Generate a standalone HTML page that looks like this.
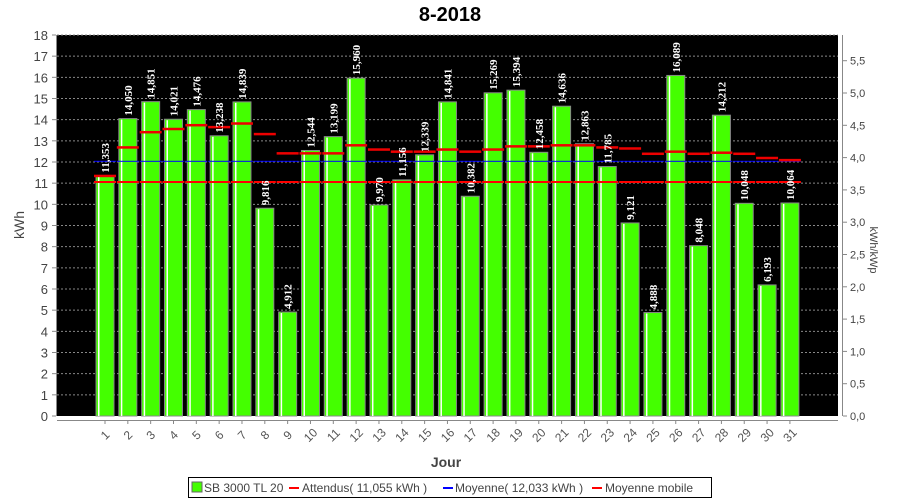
<!DOCTYPE html>
<html><head><meta charset="utf-8"><style>
html,body{margin:0;padding:0;background:#fff;}
svg{display:block;font-family:"Liberation Sans",sans-serif;}
</style></head><body>
<svg id="s" width="900" height="500" xmlns="http://www.w3.org/2000/svg">
<text x="450" y="21" text-anchor="middle" font-size="20" font-weight="bold" fill="#000">8-2018</text>
<rect x="57" y="35" width="781" height="381" fill="#000"/>
<g id="g"></g>
<text transform="translate(24,225) rotate(-90)" text-anchor="middle" font-size="14" fill="#444">kWh</text>
<text transform="translate(870,250) rotate(90)" text-anchor="middle" font-size="11" fill="#444">kWh/kWp</text>
<text x="446" y="467" text-anchor="middle" font-size="14" font-weight="bold" fill="#444">Jour</text>
<rect x="188.5" y="477.5" width="523" height="20" fill="#fff" stroke="#000"/>
<rect x="192" y="482" width="10" height="10" fill="#44ff00" stroke="#666"/>
<text x="204" y="492" font-size="12" fill="#444">SB 3000 TL 20</text>
<rect x="289" y="487" width="10" height="2" fill="#f00"/>
<text x="302" y="492" font-size="12" fill="#444">Attendus( 11,055 kWh )</text>
<rect x="443" y="487" width="10" height="2" fill="#00f"/>
<text x="455" y="492" font-size="12" fill="#444">Moyenne( 12,033 kWh )</text>
<rect x="592" y="487" width="10" height="2" fill="#f00"/>
<text x="605" y="492" font-size="12" fill="#444">Moyenne mobile</text>
</svg>
<script>
var g=document.getElementById('g'),h='';
var Y=function(v){return 416-v*21.167;};
for(var i=0;i<=18;i++){var y=Y(i);
 if(i>0)h+='<line x1="57" x2="838" y1="'+y+'" y2="'+y+'" stroke="#888" stroke-dasharray="2,2"/>';
 h+='<line x1="52" x2="56" y1="'+y+'" y2="'+y+'" stroke="#888"/>';
 h+='<text x="48" y="'+(y+5)+'" text-anchor="end" font-size="13" fill="#444">'+i+'</text>';}
h+='<line x1="56.5" x2="56.5" y1="35" y2="416" stroke="#888"/>';
h+='<line x1="842.5" x2="842.5" y1="35" y2="416" stroke="#888"/>';
for(var k=0;k<=11;k++){var v=k*0.5,y=416-v*64.6;
 h+='<line x1="843" x2="847" y1="'+y+'" y2="'+y+'" stroke="#888"/>';
 h+='<text x="850" y="'+(y+4)+'" font-size="11" fill="#444">'+v.toFixed(1).replace('.',',')+'</text>';}
h+='<line x1="57" x2="838" y1="420.5" y2="420.5" stroke="#888"/>';
var d=[11.353,14.050,14.851,14.021,14.476,13.238,14.839,9.816,4.912,12.544,13.199,15.960,9.970,11.156,12.339,14.841,10.382,15.269,15.394,12.458,14.636,12.863,11.785,9.121,4.888,16.089,8.048,14.212,10.048,6.193,10.064];
var m=[11.353,12.70,13.42,13.57,13.75,13.66,13.83,13.33,12.42,12.42,12.42,12.8,12.6,12.5,12.5,12.6,12.5,12.6,12.75,12.75,12.8,12.8,12.7,12.65,12.4,12.5,12.4,12.45,12.4,12.2,12.1];
for(var i=0;i<31;i++){var c=105+i*22.83,x=c-9,y=Y(d[i]);
 h+='<rect x="'+x+'" y="'+y+'" width="18" height="'+(416-y)+'" fill="#44ff00" stroke="#888" stroke-width="1"/>';
 h+='<rect x="'+(x+2)+'" y="'+(y+1)+'" width="1.5" height="'+(415-y)+'" fill="#fff"/>';
 h+='<rect x="'+(c-11)+'" y="'+(Y(11.055)-1)+'" width="22" height="2" fill="#f00"/>';
 h+='<rect x="'+(c-11)+'" y="'+(Y(12.033)-0.5)+'" width="22" height="1" fill="#00f"/>';
 h+='<rect x="'+(c-11)+'" y="'+(Y(m[i])-1)+'" width="22" height="2.5" fill="#e00"/>';
 h+='<text transform="translate('+(c+4)+','+(y-3)+') rotate(-90)" font-family="Liberation Serif,serif" font-weight="bold" font-size="11" fill="#fff">'+d[i].toFixed(3).replace('.',',')+'</text>';
 h+='<line x1="'+c+'" x2="'+c+'" y1="421" y2="424" stroke="#888"/>';
 h+='<text transform="translate('+(c+3)+',438) rotate(-45)" text-anchor="middle" font-size="12" fill="#555">'+(i+1)+'</text>';}
g.innerHTML=h;
</script>
</body></html>
